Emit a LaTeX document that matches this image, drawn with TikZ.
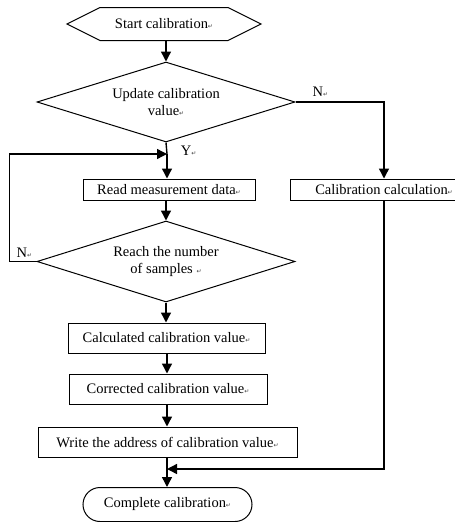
\documentclass[tikz,border=0pt]{standalone}
\usepackage{fontspec}
\setmainfont{Liberation Serif}
\newfontfamily\markfont{DejaVu Sans}
\usetikzlibrary{shapes.geometric, shapes.symbols, arrows.meta, positioning}

% small paragraph mark after each label
\newcommand{\pmark}{{\markfont\fontsize{6}{6}\selectfont\color{black!75}\char"21B5}}

\begin{document}
\begin{tikzpicture}[x=1pt, y=-1pt, font=\fontsize{14.5}{17}\selectfont]
    \tikzstyle{startbox} = [signal, signal to=east and west, signal pointer angle=53, draw=black, line width=1pt, minimum width=194pt, minimum height=33pt, inner sep=0pt]
    \tikzstyle{decision} = [diamond, aspect=3.2, draw=black, line width=1pt, minimum width=258pt, minimum height=80pt, inner sep=0pt, align=center]
    \tikzstyle{process} = [rectangle, draw=black, line width=1pt, minimum height=30pt, inner sep=0pt, text centered]
    \tikzstyle{terminal} = [rectangle, rounded corners=17pt, draw=black, line width=1pt, minimum width=169pt, minimum height=34pt, inner sep=0pt]
    \tikzstyle{arrow} = [line width=1.4pt, -{Triangle[length=10pt, width=10pt]}]
    \tikzstyle{line} = [line width=1.4pt]

    \useasboundingbox (0,0) rectangle (455,522);

    \node[startbox] (start) at (164,24) {Start calibration\pmark};
    \node[decision] (upd) at (166,102) {Update calibration\\value\pmark};
    \node[process, minimum width=172pt, minimum height=21pt] (read) at (169,189.5) {Read measurement data\pmark};
    \node[process, minimum width=188pt, minimum height=21pt] (calc) at (384,189.5) {Calibration calculation\pmark};
    \node[decision, minimum height=81pt] (samp) at (166,261.5) {Reach the number\\of samples \pmark};
    \node[process, minimum width=197pt] (calcd) at (166.5,338) {Calculated calibration value\pmark};
    \node[process, minimum width=198pt] (corr) at (168,389) {Corrected calibration value\pmark};
    \node[process, minimum width=259pt] (write) at (167.5,442) {Write the address of calibration value\pmark};
    \node[terminal] (done) at (167.5,504.5) {Complete calibration\pmark};

    \coordinate (ymerge) at (167,154);
    \coordinate (jmerge) at (167,469);

    \draw[arrow] (start.south -| upd.north) -- (upd.north);
    \draw[line] (upd.south) -- node[right, pos=0.75, xshift=10pt] {Y\pmark} (ymerge);
    \draw[arrow] (ymerge) -- (read.north -| ymerge);
    \draw[arrow] (upd.east) -| node[pos=0.14, above, yshift=1pt] {N\pmark} (calc.north);
    \draw[arrow] (read.south -| samp.north) -- (samp.north);
    \draw[arrow] (samp.west) -- ++(-27,0) node[above right, xshift=3pt] {N\pmark} |- (ymerge);
    \draw[arrow] (samp.south) -- (calcd.north -| samp.south);
    \draw[arrow] (calcd.south -| jmerge) -- (corr.north -| jmerge);
    \draw[arrow] (corr.south -| jmerge) -- (write.north -| jmerge);
    \draw[line] (write.south -| jmerge) -- (jmerge);
    \draw[arrow] (jmerge) -- (done.north -| jmerge);
    \draw[arrow] (calc.south) |- (jmerge);
\end{tikzpicture}
\end{document}
